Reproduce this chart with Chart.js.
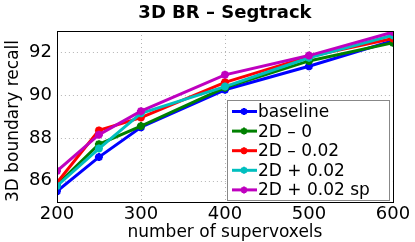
<!DOCTYPE html>
<html>
<head>
<meta charset="utf-8">
<script src="https://cdn.jsdelivr.net/npm/chart.js@4"></script>
<style>
  html, body { margin: 0; padding: 0; background: #fff; }
  #wrap { width: 415px; height: 242px; }
</style>
</head>
<body>
<div id="wrap"><canvas id="brChart"></canvas></div>
<script>
var supervoxels = [200, 250, 300, 400, 500, 600];
var baseline    = [85.5, 87.1, 88.5, 90.25, 91.35, 92.55];
var d2Zero      = [85.8, 87.7, 88.55, 90.35, 91.6, 92.45];
var d2Minus     = [85.9, 88.35, 88.95, 90.6, 91.8, 92.65];
var d2Plus      = [85.75, 87.5, 89.15, 90.4, 91.75, 92.8];
var d2PlusSp    = [86.45, 88.15, 89.25, 90.95, 91.85, 92.95];
var yTicks = [86, 88, 90, 92];
var xTicks = [200, 300, 400, 500, 600];

var FONT = "'DejaVu Sans', sans-serif";

function toPoints(values) {
    return values.map(function(v, i) { return { x: supervoxels[i], y: v }; });
}

function makeSet(label, values, color, order) {
    return {
        label: label,
        data: toPoints(values),
        borderColor: color,
        backgroundColor: color,
        borderWidth: 3,
        pointStyle: 'star',
        pointRadius: 4,
        pointBorderWidth: 2.5,
        pointBorderColor: color,
        order: order
    };
}

// dotted grid, box around the plot, legend inside the axes (matlab look)
var boxLegend = {
    id: 'boxLegend',
    beforeDatasetsDraw: function(chart) {
        var ctx = chart.ctx;
        var a = chart.chartArea;
        var xs = chart.scales.x, ys = chart.scales.y;
        ctx.save();
        ctx.strokeStyle = '#b4b4b4';
        ctx.lineWidth = 1;
        ctx.setLineDash([1, 3]);
        ctx.beginPath();
        xTicks.forEach(function(v) {
            var px = Math.round(xs.getPixelForValue(v)) + 0.5;
            ctx.moveTo(px, a.top);
            ctx.lineTo(px, a.bottom);
        });
        yTicks.forEach(function(v) {
            var py = Math.round(ys.getPixelForValue(v)) + 0.5;
            ctx.moveTo(a.left, py);
            ctx.lineTo(a.right, py);
        });
        ctx.stroke();
        ctx.restore();
    },
    afterDraw: function(chart) {
        var ctx = chart.ctx;
        var a = chart.chartArea;
        ctx.save();
        ctx.strokeStyle = '#000';
        ctx.lineWidth = 1;
        ctx.strokeRect(Math.round(a.left) + 0.5, Math.round(a.top) + 0.5,
            Math.round(a.right - a.left), Math.round(a.bottom - a.top));

        var sets = chart.data.datasets;
        var rowH = 19.6;
        var w = 162, h = 100;
        var bx = Math.round(a.right) - 4 - w, by = Math.round(a.bottom) - 2 - h;
        ctx.fillStyle = '#fff';
        ctx.fillRect(bx, by, w, h);
        ctx.strokeStyle = '#888';
        ctx.strokeRect(bx + 0.5, by + 0.5, w, h);

        ctx.font = '17px ' + FONT;
        ctx.textBaseline = 'middle';
        sets.forEach(function(ds, i) {
            var cy = by + 11.5 + i * rowH;
            ctx.strokeStyle = ds.borderColor;
            ctx.lineWidth = 3;
            ctx.beginPath();
            ctx.moveTo(bx + 5, cy);
            ctx.lineTo(bx + 30, cy);
            ctx.stroke();
            ctx.lineWidth = 2;
            Chart.helpers.drawPoint(ctx, { pointStyle: 'star', radius: 3.5, borderWidth: 2 }, bx + 17, cy);
            ctx.fillStyle = '#000';
            ctx.fillText(ds.label, bx + 31, cy + 1);
        });
        ctx.restore();
    }
};

new Chart(document.getElementById('brChart'), {
    type: 'line',
    data: {
        datasets: [
            makeSet('baseline', baseline, '#0000ff', 4),
            makeSet('2D \u2013 0', d2Zero, '#008000', 3),
            makeSet('2D \u2013 0.02', d2Minus, '#ff0000', 2),
            makeSet('2D + 0.02', d2Plus, '#00bfbf', 1),
            makeSet('2D + 0.02 sp', d2PlusSp, '#bf00bf', 0)
        ]
    },
    options: {
        responsive: true,
        maintainAspectRatio: false,
        animation: false,
        layout: { padding: { left: 5, right: 22, top: 0, bottom: 0 } },
        plugins: {
            legend: { display: false },
            tooltip: { enabled: false },
            title: {
                display: true,
                fullSize: false,
                text: '3D BR \u2013 Segtrack',
                color: '#000',
                font: { family: FONT, size: 18, weight: 'bold', lineHeight: 1 },
                padding: { top: 4, bottom: 9 }
            }
        },
        scales: {
            x: {
                type: 'linear',
                min: 200,
                max: 600,
                afterBuildTicks: function(axis) {
                    axis.ticks = xTicks.map(function(v) { return { value: v }; });
                },
                grid: { display: false, drawTicks: false },
                border: { display: false },
                ticks: { color: '#000', font: { family: FONT, size: 18, lineHeight: 1 }, padding: 3, maxRotation: 0 },
                title: {
                    display: true,
                    text: 'number of supervoxels',
                    color: '#000',
                    font: { family: FONT, size: 17, lineHeight: 1 },
                    padding: { top: -2, bottom: 1 }
                }
            },
            y: {
                min: 85,
                max: 93,
                afterBuildTicks: function(axis) {
                    axis.ticks = yTicks.map(function(v) { return { value: v }; });
                },
                grid: { display: false, drawTicks: false },
                border: { display: false },
                ticks: { color: '#000', font: { family: FONT, size: 18 }, padding: 5 },
                title: {
                    display: true,
                    align: 'start',
                    text: '3D boundary recall',
                    color: '#000',
                    font: { family: FONT, size: 17, lineHeight: 1 },
                    padding: { top: 0, bottom: 2 }
                }
            }
        }
    },
    plugins: [boxLegend]
});
</script>
</body>
</html>
